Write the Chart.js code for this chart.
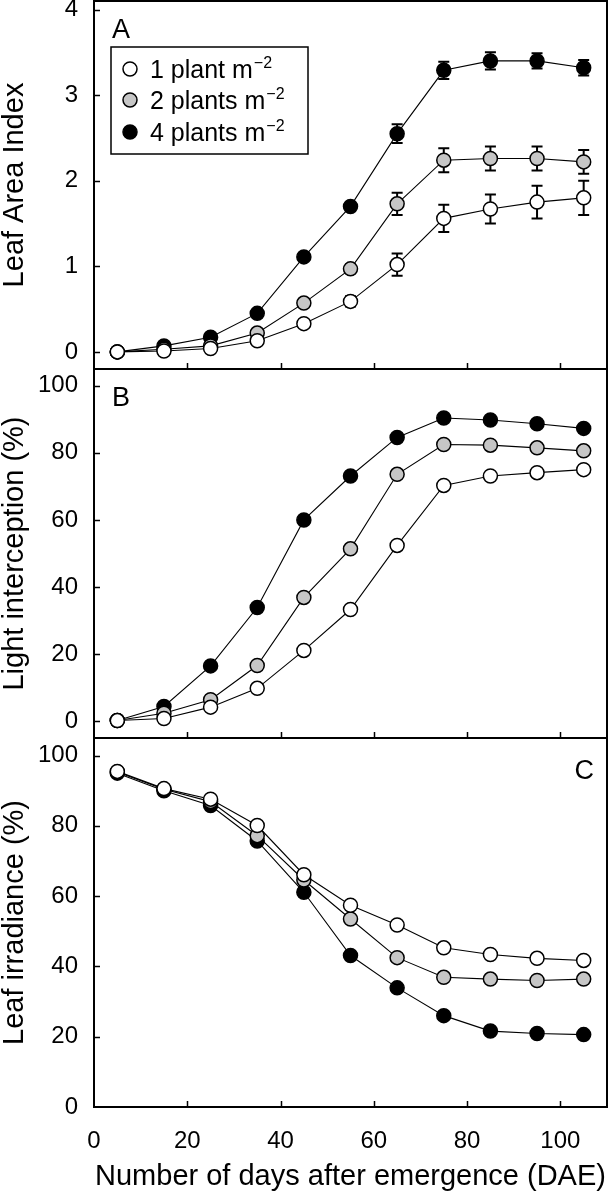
<!DOCTYPE html>
<html>
<head>
<meta charset="utf-8">
<script src="https://cdn.jsdelivr.net/npm/chart.js@4.4.1/dist/chart.umd.min.js"></script>
<style>
  html, body { margin: 0; padding: 0; background: #fff; }
  body { position: relative; width: 608px; height: 1200px; overflow: hidden; }
  canvas { position: absolute; left: 0; }
</style>
</head>
<body>
<canvas id="panelA" width="608" height="370" style="top:0px"></canvas>
<canvas id="panelB" width="608" height="370" style="top:369px"></canvas>
<canvas id="panelC" width="608" height="462" style="top:738px"></canvas>
<script>
const days = [5, 15, 25, 35, 45, 55, 65, 75, 85, 95, 105];
const seriesNames = ['1 plant m', '2 plants m', '4 plants m'];
const xTicks = [0, 20, 40, 60, 80, 100];

// A: leaf area index
const laiOne = [0, 0.01, 0.04, 0.13, 0.33, 0.59, 1.02, 1.56, 1.67, 1.75, 1.80];
const laiTwo = [0, 0.03, 0.07, 0.22, 0.57, 0.97, 1.73, 2.24, 2.26, 2.26, 2.22];
const laiFour = [0, 0.07, 0.17, 0.45, 1.11, 1.70, 2.55, 3.29, 3.40, 3.40, 3.32];
const laiOneErr = [0, 0, 0, 0.02, 0.03, 0.06, 0.13, 0.16, 0.17, 0.19, 0.20];
const laiTwoErr = [0, 0, 0, 0.02, 0.03, 0.05, 0.13, 0.14, 0.14, 0.14, 0.14];
const laiFourErr = [0, 0, 0, 0.02, 0.03, 0.05, 0.11, 0.10, 0.10, 0.09, 0.09];
const laiTicks = [0, 1, 2, 3, 4];

// B: light interception (%)
const liOne = [0.2, 0.8, 4.2, 9.8, 21.1, 33.3, 52.4, 70.3, 73.1, 74.1, 75.0];
const liTwo = [0.2, 2.4, 6.4, 16.6, 36.9, 51.4, 73.6, 82.5, 82.3, 81.5, 80.6];
const liFour = [0.2, 4.4, 16.5, 33.9, 60.0, 73.1, 84.6, 90.4, 89.8, 88.7, 87.3];
const liTicks = [0, 20, 40, 60, 80, 100];

// C: leaf irradiance (%)
const irOne = [95.5, 90.6, 87.6, 80.1, 66.1, 57.4, 51.8, 45.3, 43.4, 42.3, 41.7];
const irTwo = [95.3, 90.4, 86.9, 77.2, 64.6, 53.5, 42.5, 36.9, 36.4, 36.0, 36.4];
const irFour = [95.0, 90.0, 85.8, 75.7, 61.1, 43.1, 33.9, 26.0, 21.6, 20.9, 20.6];
const irTicks = [0, 20, 40, 60, 80, 100];

const FONT = "'Liberation Sans', Arial, Helvetica, sans-serif";
const fills = ['#ffffff', '#c6c6c6', '#000000'];

function points(vals) {
    return days.map((d, i) => ({ x: d, y: vals[i] }));
}

// frame, inward ticks, error bars, panel letter, legend
const panelExtras = {
    id: 'panelExtras',
    beforeDatasetsDraw(chart, args, opts) {
        if (!opts.errors) return;
        const ctx = chart.ctx;
        const y = chart.scales.y;
        ctx.save();
        ctx.strokeStyle = '#000';
        ctx.lineWidth = 2;
        opts.errors.forEach((errs, di) => {
            const meta = chart.getDatasetMeta(di);
            const vals = chart.data.datasets[di].data;
            errs.forEach((e, j) => {
                if (!e) return;
                const px = meta.data[j].x;
                const top = y.getPixelForValue(vals[j].y + e);
                const bot = y.getPixelForValue(vals[j].y - e);
                ctx.beginPath();
                ctx.moveTo(px, top); ctx.lineTo(px, bot);
                ctx.moveTo(px - 5.5, top); ctx.lineTo(px + 5.5, top);
                ctx.moveTo(px - 5.5, bot); ctx.lineTo(px + 5.5, bot);
                ctx.stroke();
            });
        });
        ctx.restore();
    },
    afterDraw(chart, args, opts) {
        const ctx = chart.ctx;
        const a = chart.chartArea;
        const xs = chart.scales.x, ys = chart.scales.y;
        ctx.save();
        ctx.strokeStyle = '#000';
        ctx.lineWidth = 2;
        ctx.strokeRect(a.left, a.top, a.right - a.left, a.bottom - a.top);
        ctx.lineWidth = 1.5;
        ctx.beginPath();
        xTicks.forEach(v => {
            const px = Math.round(xs.getPixelForValue(v)) + 0.5;
            if (px <= a.left + 2) return;
            ctx.moveTo(px, a.bottom); ctx.lineTo(px, a.bottom - 6);
        });
        opts.yTicks.forEach(v => {
            const py = Math.round(ys.getPixelForValue(v)) + 0.5;
            if (py >= a.bottom - 2) return;
            ctx.moveTo(a.left, py); ctx.lineTo(a.left + 6, py);
        });
        ctx.stroke();

        ctx.fillStyle = '#000';
        ctx.font = '27px ' + FONT;
        ctx.textBaseline = 'alphabetic';
        if (opts.letterRight) {
            ctx.textAlign = 'right';
            ctx.fillText(opts.letter, a.right - 13, a.top + 41);
        } else {
            ctx.textAlign = 'left';
            ctx.fillText(opts.letter, a.left + 18, a.top + 37);
        }

        if (opts.legend) {
            const bx = 111, by = 47, bw = 197, bh = 107;
            ctx.lineWidth = 1.5;
            ctx.strokeRect(bx, by, bw, bh);
            const rows = [69, 100, 132];
            rows.forEach((cy, i) => {
                ctx.beginPath();
                ctx.arc(130, cy, 7, 0, Math.PI * 2);
                ctx.fillStyle = fills[i];
                ctx.fill();
                ctx.strokeStyle = '#000';
                ctx.lineWidth = 1.5;
                ctx.stroke();
                ctx.fillStyle = '#000';
                ctx.textAlign = 'left';
                ctx.font = '25px ' + FONT;
                ctx.fillText(seriesNames[i], 150, cy + 9);
                const w = ctx.measureText(seriesNames[i]).width;
                ctx.font = '16px ' + FONT;
                ctx.fillText('\u22122', 150 + w + 1, cy - 1);
            });
        }
        ctx.restore();
    }
};

function makePanel(id, sets, yMin, yMax, yTicks, yTitle, extra, showX, padTop) {
    const datasets = sets.map((vals, i) => ({
        label: seriesNames[i],
        data: points(vals),
        borderColor: '#000',
        borderWidth: 1.1,
        pointRadius: 7,
        pointBorderWidth: 1.5,
        pointBorderColor: '#000',
        pointBackgroundColor: fills[i],
        tension: 0
    }));
    return new Chart(document.getElementById(id), {
        type: 'line',
        data: { datasets },
        options: {
            responsive: false,
            animation: false,
            layout: {
                autoPadding: false,
                padding: { top: padTop, right: 1, bottom: showX ? 0 : 1, left: 0 }
            },
            plugins: {
                legend: { display: false },
                tooltip: { enabled: false },
                panelExtras: Object.assign({ yTicks }, extra)
            },
            scales: {
                x: {
                    type: 'linear',
                    min: 0,
                    max: 110,
                    display: showX,
                    afterBuildTicks: s => { s.ticks = xTicks.map(v => ({ value: v })); },
                    afterFit: s => {
                        if (showX) s.height = 93;
                        s.paddingLeft = 0; s.paddingRight = 0;
                    },
                    grid: { display: false, drawTicks: false },
                    border: { display: false },
                    ticks: { color: '#000', padding: 20, maxRotation: 0, font: { family: FONT, size: 24 } },
                    title: {
                        display: true,
                        text: 'Number of days after emergence (DAE)',
                        color: '#000',
                        padding: { top: 0, bottom: 6 },
                        font: { family: FONT, size: 29, lineHeight: 1.2 }
                    }
                },
                y: {
                    min: yMin,
                    max: yMax,
                    afterBuildTicks: s => { s.ticks = yTicks.map(v => ({ value: v })); },
                    afterFit: s => {
                        s.width = 94;
                        s.paddingTop = 0; s.paddingBottom = 0;
                    },
                    grid: { display: false, drawTicks: false },
                    border: { display: false },
                    ticks: { color: '#000', padding: 16, font: { family: FONT, size: 24 } },
                    title: {
                        display: true,
                        text: yTitle,
                        color: '#000',
                        padding: 0,
                        font: { family: FONT, size: 29, lineHeight: 1.0 }
                    }
                }
            }
        },
        plugins: [panelExtras]
    });
}

makePanel('panelA', [laiOne, laiTwo, laiFour], -0.2, 4.1, laiTicks, 'Leaf Area Index',
    { letter: 'A', legend: true, errors: [laiOneErr, laiTwoErr, laiFourErr] }, false, 1);
makePanel('panelB', [liOne, liTwo, liFour], -5, 105, liTicks, 'Light interception (%)',
    { letter: 'B' }, false, 0);
makePanel('panelC', [irOne, irTwo, irFour], 0, 105, irTicks, 'Leaf irradiance (%)',
    { letter: 'C', letterRight: true }, true, 0);
</script>
</body>
</html>
